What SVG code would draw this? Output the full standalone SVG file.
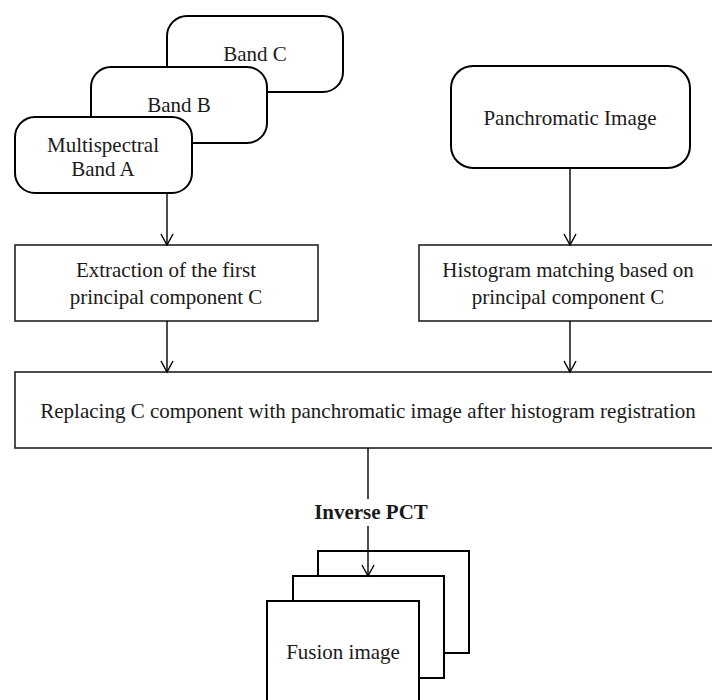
<svg xmlns="http://www.w3.org/2000/svg" width="712" height="700" viewBox="0 0 712 700">
<style>
text{font-family:"Liberation Serif","Times New Roman",serif;font-size:21px;fill:#1a1a1a;text-anchor:middle}
.rb{fill:#fff;stroke:#000;stroke-width:2}
.bx{fill:#fff;stroke:#222;stroke-width:1.6}
.ln{fill:none;stroke:#000;stroke-width:1.4}
.b{font-weight:bold}
</style>
<defs>
<marker id="ah" markerWidth="14" markerHeight="14" refX="12" refY="7" orient="auto" markerUnits="userSpaceOnUse" viewBox="0 0 14 14">
<path d="M1,1 L12,7 L1,13" fill="none" stroke="#000" stroke-width="1.4"/>
</marker>
</defs>
<g id="bandC"><rect class="rb" x="167" y="16" width="176" height="76" rx="20"/><text x="255" y="61">Band C</text></g>
<g id="bandB"><rect class="rb" x="91" y="67" width="176" height="76" rx="20"/><text x="179" y="112">Band B</text></g>
<g id="bandA"><rect class="rb" x="15" y="117" width="177" height="76" rx="20"/><text x="103" y="152">Multispectral</text><text x="103" y="176">Band A</text></g>
<g id="pan"><rect class="rb" x="451" y="66" width="239" height="102" rx="22"/><text x="570" y="125">Panchromatic Image</text></g>
<g id="extract"><rect class="bx" x="15" y="245" width="303" height="76"/><text x="166" y="277">Extraction of the first</text><text x="166" y="304">principal component C</text></g>
<g id="hist"><rect class="bx" x="419" y="245" width="300" height="76"/><text x="568" y="277">Histogram matching based on</text><text x="568" y="304">principal component C</text></g>
<g id="replace"><rect class="bx" x="15" y="372" width="705" height="76"/><text x="368" y="418">Replacing C component with panchromatic image after histogram registration</text></g>
<g id="fusion">
<rect class="rb" x="318" y="551" width="151" height="102"/>
<rect class="rb" x="293" y="576" width="151" height="102"/>
<rect class="rb" x="267" y="601" width="152" height="110"/>
<text x="343" y="659">Fusion image</text>
</g>
<g id="connectors">
<line class="ln" x1="167" y1="193" x2="167" y2="245" marker-end="url(#ah)"/>
<line class="ln" x1="570" y1="168" x2="570" y2="245" marker-end="url(#ah)"/>
<line class="ln" x1="167" y1="321" x2="167" y2="372" marker-end="url(#ah)"/>
<line class="ln" x1="570" y1="321" x2="570" y2="372" marker-end="url(#ah)"/>
<line class="ln" x1="368" y1="448" x2="368" y2="499"/>
<line class="ln" x1="368" y1="526" x2="368" y2="576" marker-end="url(#ah)"/>
<text class="b" x="371" y="519">Inverse PCT</text>
</g>
</svg>
